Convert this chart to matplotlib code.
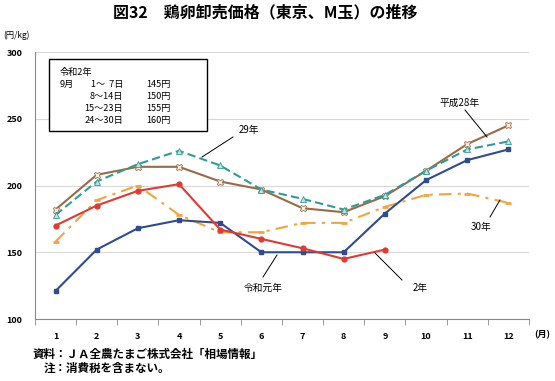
import matplotlib
matplotlib.use("Agg")
import matplotlib.pyplot as plt
from matplotlib.ticker import MultipleLocator, FixedLocator

plt.rcParams['font.family'] = ['Noto Sans CJK JP', 'DejaVu Sans']

months = [1, 2, 3, 4, 5, 6, 7, 8, 9, 10, 11, 12]
h28 = [182, 208, 214, 214, 203, 197, 183, 180, 192, 211, 231, 245]
h29 = [178, 203, 216, 226, 215, 197, 190, 182, 193, 211, 227, 233]
h30 = [158, 189, 200, 178, 165, 165, 172, 172, 184, 193, 194, 187]
r1 = [121, 152, 168, 174, 172, 150, 150, 150, 179, 204, 219, 227]
r2 = [170, 185, 196, 201, 167, 160, 153, 145, 152]
r2_months = months[:len(r2)]
inset_title = "令和2年"
inset_month = "9月"
inset_days = ["1～  7日", "8～14日", "15～23日", "24～30日"]
inset_prices = ["145円", "150円", "155円", "160円"]

fig = plt.figure(figsize=(5.55, 3.81), dpi=100)
ax = fig.add_axes([0.063, 0.1627, 0.890, 0.7008])

c_brown = '#9A6A45'
c_teal = '#2E9C98'
c_orange = '#F2A43F'
c_blue = '#2F4C8E'
c_red = '#E03A32'

ax.plot(months, h30, color=c_orange, lw=1.5, ls=(0, (6, 3, 1.5, 3)), marker='_', ms=5, mew=2, zorder=2)
ax.plot(months, h28, color=c_brown, lw=1.5, marker='X', ms=5, mfc='#FBEFD9', mec=c_brown, mew=0.6, zorder=3)
ax.plot(months, h29, color=c_teal, lw=1.5, ls=(0, (4, 2)), marker='^', ms=4, mfc='#BFE3E0', mec=c_teal, mew=0.6, zorder=4)
ax.plot(months, r1, color=c_blue, lw=1.5, marker='s', ms=3.5, zorder=5)
ax.plot(r2_months, r2, color=c_red, lw=1.5, marker='o', ms=3.5, zorder=6)

ax.set_xlim(0.5, 12.5)
ax.set_ylim(100, 300)
ax.yaxis.set_major_locator(MultipleLocator(50))
ax.set_xticks(months)
ax.set_xticklabels([str(m) for m in months])
ax.xaxis.set_minor_locator(FixedLocator([m + 0.5 for m in [0] + months]))
ax.tick_params(axis='x', which='major', length=0, labelsize=6.5, pad=9)
ax.tick_params(axis='x', which='minor', length=4, color='#888888', direction='out')
ax.tick_params(axis='y', length=0, labelsize=6.5, pad=9)
for lab in ax.get_yticklabels():
    lab.set_fontweight('bold')
for lab in ax.get_xticklabels():
    lab.set_fontweight('bold')
ax.grid(axis='y', color='#D9D9D9', lw=0.8)
ax.set_axisbelow(True)
for s in ['top', 'right']:
    ax.spines[s].set_visible(False)
ax.spines['left'].set_color('#888888')
ax.spines['bottom'].set_color('#888888')

# inset box
fig.patches.append(plt.Rectangle((49/555, 1-131/381), 158/555, 72/381, transform=fig.transFigure,
                                 fill=True, fc='white', ec='black', lw=1.0, zorder=10))
fs_in = 6.6
fig.text(60/555, 1-72/381, inset_title, fontsize=fs_in, va='center', ha='left', zorder=11)
fig.text(60/555, 1-84/381, inset_month, fontsize=fs_in, va='center', ha='left', zorder=11)
for i, (d, p) in enumerate(zip(inset_days, inset_prices)):
    y = 84 + 12 * i
    fig.text(123/555, 1-y/381, d, fontsize=fs_in, va='center', ha='right', zorder=11)
    fig.text(146/555, 1-y/381, p, fontsize=fs_in, va='center', ha='left', zorder=11)

# annotations
def ann(text, tx, ty, x1, y1, x2, y2):
    fig.text(tx/555, 1-ty/381, text, fontsize=7, ha='center', va='center')
    fig.add_artist(plt.Line2D([x1/555, x2/555], [1-y1/381, 1-y2/381], color='black', lw=0.7))

ann("29年", 249, 130, 233, 137, 202, 157)
ann("平成28年", 460, 103, 465, 110, 487, 137)
ann("30年", 481, 227, 490, 217, 500, 200)
ann("2年", 420, 288, 402, 280, 375, 253)
ann("令和元年", 263, 288, 263, 277, 277, 255)

fig.text(265/555, 1-12/381, "図32　鶏卵卸売価格（東京、M玉）の推移", fontsize=11.5, fontweight='bold', ha='center', va='center')
fig.text(3/555, 1-35/381, "(円/kg)", fontsize=6, ha='left', va='center')
fig.text(534/555, 1-335/381, "(月)", fontsize=6.5, ha='left', va='center', fontweight='bold')
fig.text(33/555, 1-354/381, "資料：ＪＡ全農たまご株式会社「相場情報」", fontsize=8.3, ha='left', va='center', fontweight='bold')
fig.text(44/555, 1-368/381, "注：消費税を含まない。", fontsize=8.3, ha='left', va='center', fontweight='bold')

fig.savefig("out.png", dpi=100)
